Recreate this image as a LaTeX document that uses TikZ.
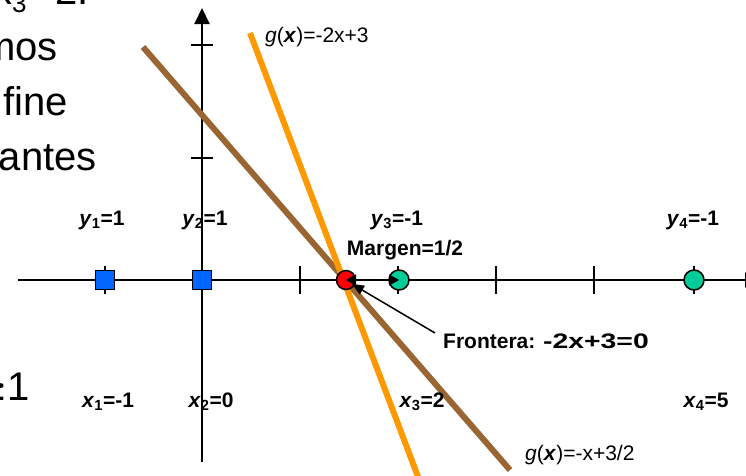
\documentclass[tikz,border=0pt]{standalone}
\usepackage{fontspec}
\setmainfont{Liberation Sans}
\newfontfamily\symfamily{DejaVu Sans}
\usetikzlibrary{arrows.meta}
\definecolor{myblue}{RGB}{0,102,255}
\definecolor{mygreen}{RGB}{0,204,153}
\definecolor{myred}{RGB}{255,0,0}
\definecolor{mybrown}{RGB}{153,102,51}
\definecolor{myorange}{RGB}{255,153,0}
\begin{document}
\begin{tikzpicture}[x=1pt,y=-1pt,
  axisline/.style={line width=2pt,black},
  tickmark/.style={line width=1.6pt,black},
  lab/.style={font=\fontsize{21}{21}\selectfont\bfseries,inner sep=0pt,anchor=base},
  glab/.style={font=\fontsize{21}{21}\selectfont,inner sep=0pt,anchor=base west},
  bigtext/.style={font=\fontsize{40}{40}\selectfont,inner sep=0pt,anchor=base east},
  bluesq/.style={draw=black,line width=1.5pt,fill=myblue,minimum size=19pt,inner sep=0pt},
  greencirc/.style={circle,draw=black,line width=1.5pt,fill=mygreen,minimum size=20pt,inner sep=0pt},
  redcirc/.style={circle,draw=black,line width=1.5pt,fill=myred,minimum size=19pt,inner sep=0pt},
  gline/.style={line width=6pt},
  arr/.style={line width=1.5pt,black}
]
\useasboundingbox (0,0) rectangle (746,475);
\clip (0,0) rectangle (746,475);

% partial slide text on the left
\node[bigtext,anchor=base west] (t0) at (-8,4) {x\raisebox{-8pt}{\fontsize{26}{26}\selectfont 3}\hspace{5pt}=2.};
\node[bigtext] (t1) at (58,60) {mos};
\node[bigtext] (t2) at (68,115) {fine};
\node[bigtext] (t3) at (97,170) {antes};
\node[bigtext] (t4) at (30,400) {{\symfamily ≥}1};

% axes
\coordinate (xl) at (18,280);
\coordinate (xr) at (761,280);
\coordinate (yb) at (202,462);
\coordinate (yt) at (202,8);
\draw[axisline,-{Triangle[length=16pt,width=15pt]}] (xl) -- (xr);
\draw[axisline,-{Triangle[length=16pt,width=15pt]}] (yb) -- (yt);

% ticks
\foreach \tx in {105,300,398,496,594,694}
  \draw[tickmark] (\tx,266) -- (\tx,294);
\foreach \ty in {45,158}
  \draw[tickmark] (191,\ty) -- (213,\ty);

% decision lines
\coordinate (o1) at (250,33);
\coordinate (o2) at (420,482);
\coordinate (b1) at (143,47);
\coordinate (b2) at (510,470);
\draw[gline,mybrown] (b1) -- (b2);
\draw[gline,myorange] (o1) -- (o2);

% points
\node[bluesq] (p1) at (105,280) {};
\node[bluesq] (p2) at (202,280) {};
\node[redcirc] (pr) at (346,280) {};
\node[greencirc] (p3) at (399,280) {};
\node[greencirc] (p4) at (694,280) {};

% margin arrow
\draw[arr,{Triangle[length=10pt,width=11pt]}-{Triangle[length=10pt,width=11pt]}] (pr.center) -- (p3.center);

% frontier arrow
\coordinate (ftail) at (435,333);
\coordinate (ftip) at (352,284);
\draw[arr,-{Triangle[length=12pt,width=10pt]}] (ftail) -- (ftip);
\node[lab,anchor=base west] (front) at (443,348) {Frontera: \scalebox{1.35}[1]{-2x+3=0}};

% labels
\node[lab] (ly1) at (102,225) {\textit{y}\textsubscript{1}=1};
\node[lab] (ly2) at (205,225) {\textit{y}\textsubscript{2}=1};
\node[lab] (ly3) at (397,225) {\textit{y}\textsubscript{3}=-1};
\node[lab] (ly4) at (693,225) {\textit{y}\textsubscript{4}=-1};
\node[lab] (marg) at (405,255) {Margen=1/2};
\node[lab] (lx1) at (108,407) {\textit{x}\textsubscript{1}=-1};
\node[lab] (lx2) at (211,407) {\textit{x}\textsubscript{2}=0};
\node[lab] (lx3) at (422,407) {\textit{x}\textsubscript{3}=2};
\node[lab] (lx4) at (706,407) {\textit{x}\textsubscript{4}=5};

\node[glab] (g1) at (265,42) {\textit{g}(\textbf{\textit{x}})=-2x+3};
\node[glab] (g2) at (525,460) {\textit{g}(\textbf{\textit{x}})=-x+3/2};
\end{tikzpicture}
\end{document}
